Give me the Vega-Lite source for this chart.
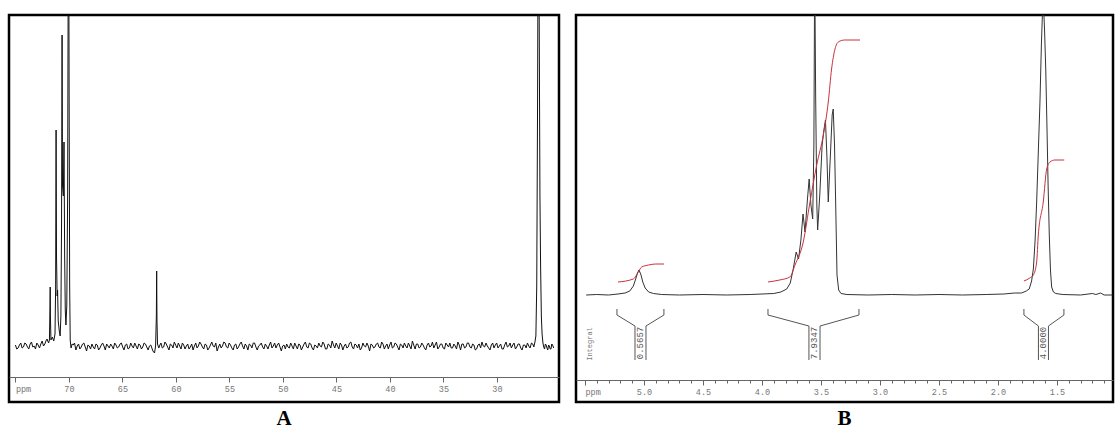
{
  "$schema": "https://vega.github.io/schema/vega-lite/v6.json",
  "background": "white",
  "padding": {"left": 7, "top": 13, "right": 0, "bottom": 0},
  "autosize": {"type": "pad"},
  "spacing": 13,
  "config": {
    "view": {"stroke": "#000", "strokeWidth": 2.5},
    "axis": {"grid": false, "title": null, "domainColor": "#666", "tickColor": "#666", "labelColor": "#777", "labelFont": "Liberation Mono", "labelFontSize": 8.5, "labelFlush": false, "labelOverlap": false, "labelPadding": 2, "domainWidth": 1, "tickWidth": 1},
    "title": {"font": "Liberation Serif", "fontSize": 21, "fontWeight": "bold", "color": "#000", "orient": "bottom", "offset": 6, "anchor": "middle"}
  },
  "datasets": {
    "A": [
      {"p":75.0,"v":1},{"p":74.875,"v":-3},{"p":74.75,"v":-2},{"p":74.625,"v":1},{"p":74.5,"v":3},{"p":74.375,"v":-2},{"p":74.25,"v":-1},{"p":74.125,"v":3},{"p":74.0,"v":2},{"p":73.875,"v":-1},{"p":73.75,"v":-3},{"p":73.625,"v":2},{"p":73.5,"v":4},{"p":73.375,"v":-1},{"p":73.25,"v":0},{"p":73.125,"v":-3},{"p":73.0,"v":3},{"p":72.875,"v":1},{"p":72.75,"v":-2},{"p":72.625,"v":2},{"p":72.5,"v":5},{"p":72.375,"v":0},{"p":72.25,"v":2},{"p":72.15,"v":5},
      {"p":72.05,"v":7},{"p":71.9,"v":3},{"p":71.82,"v":6},{"p":71.77,"v":40},{"p":71.75,"v":59},{"p":71.73,"v":30},{"p":71.68,"v":6},{"p":71.55,"v":9},{"p":71.42,"v":5},{"p":71.3,"v":12},{"p":71.24,"v":60},{"p":71.2,"v":216},{"p":71.16,"v":90},{"p":71.1,"v":50},{"p":71.06,"v":56},{"p":71.0,"v":25},{"p":70.9,"v":15},{"p":70.82,"v":10},{"p":70.75,"v":30},{"p":70.69,"v":120},{"p":70.64,"v":311},{"p":70.6,"v":160},{"p":70.52,"v":150},{"p":70.46,"v":204},{"p":70.4,"v":90},{"p":70.34,"v":35},{"p":70.28,"v":21},{"p":70.2,"v":40},{"p":70.12,"v":150},{"p":70.06,"v":400},{"p":70.02,"v":420},{"p":69.98,"v":250},{"p":69.93,"v":60},{"p":69.88,"v":6},{"p":69.8,"v":-2},{"p":69.7,"v":2},
      {"p":69.6,"v":1},{"p":69.475,"v":3},{"p":69.35,"v":-4},{"p":69.225,"v":0},{"p":69.1,"v":2},{"p":68.975,"v":-3},{"p":68.85,"v":-1},{"p":68.725,"v":2},{"p":68.6,"v":3},{"p":68.475,"v":-1},{"p":68.35,"v":-5},{"p":68.225,"v":1},{"p":68.1,"v":0},{"p":67.975,"v":-3},{"p":67.85,"v":2},{"p":67.725,"v":-1},{"p":67.6,"v":-3},{"p":67.475,"v":2},{"p":67.35,"v":1},{"p":67.225,"v":-4},{"p":67.1,"v":-2},{"p":66.975,"v":1},{"p":66.85,"v":3},{"p":66.725,"v":0},{"p":66.6,"v":-4},{"p":66.475,"v":2},{"p":66.35,"v":0},{"p":66.225,"v":-2},{"p":66.1,"v":2},{"p":65.975,"v":0},{"p":65.85,"v":-3},{"p":65.725,"v":3},{"p":65.6,"v":1},{"p":65.475,"v":-2},{"p":65.35,"v":-1},{"p":65.225,"v":2},{"p":65.1,"v":3},{"p":64.975,"v":-1},{"p":64.85,"v":-4},{"p":64.725,"v":1},{"p":64.6,"v":2},{"p":64.475,"v":-3},{"p":64.35,"v":-2},{"p":64.225,"v":3},{"p":64.1,"v":0},{"p":63.975,"v":-2},{"p":63.85,"v":3},{"p":63.725,"v":0},{"p":63.6,"v":-3},{"p":63.475,"v":2},{"p":63.35,"v":1},{"p":63.225,"v":-3},{"p":63.1,"v":-1},{"p":62.975,"v":3},{"p":62.85,"v":2},{"p":62.725,"v":-1},{"p":62.6,"v":-4},{"p":62.475,"v":0},{"p":62.35,"v":1},{"p":62.25,"v":-2},
      {"p":62.15,"v":-5},{"p":62.0,"v":-7},{"p":61.9,"v":0},{"p":61.83,"v":30},{"p":61.8,"v":75},{"p":61.77,"v":25},{"p":61.72,"v":2},{"p":61.6,"v":-2},{"p":61.5,"v":1},
      {"p":61.4,"v":3},{"p":61.275,"v":-2},{"p":61.15,"v":-1},{"p":61.025,"v":4},{"p":60.9,"v":2},{"p":60.775,"v":-1},{"p":60.65,"v":-4},{"p":60.525,"v":2},{"p":60.4,"v":1},{"p":60.275,"v":-2},{"p":60.15,"v":4},{"p":60.025,"v":1},{"p":59.9,"v":-2},{"p":59.775,"v":3},{"p":59.65,"v":0},{"p":59.525,"v":-3},{"p":59.4,"v":3},{"p":59.275,"v":1},{"p":59.15,"v":-3},{"p":59.025,"v":0},
      {"p":58.9,"v":2},{"p":58.775,"v":-3},{"p":58.65,"v":-1},{"p":58.525,"v":2},{"p":58.4,"v":-4},{"p":58.275,"v":0},{"p":58.15,"v":3},{"p":58.025,"v":-2},{"p":57.9,"v":0},{"p":57.775,"v":4},{"p":57.65,"v":2},{"p":57.525,"v":-1},{"p":57.4,"v":-3},{"p":57.275,"v":2},{"p":57.15,"v":1},{"p":57.025,"v":-4},{"p":56.9,"v":-2},{"p":56.775,"v":1},{"p":56.65,"v":4},{"p":56.525,"v":0},
      {"p":56.4,"v":-1},{"p":56.275,"v":3},{"p":56.15,"v":-5},{"p":56.025,"v":-1},{"p":55.9,"v":2},{"p":55.775,"v":-2},{"p":55.65,"v":0},{"p":55.525,"v":4},{"p":55.4,"v":3},{"p":55.275,"v":-1},{"p":55.15,"v":-2},{"p":55.025,"v":3},{"p":54.9,"v":1},{"p":54.775,"v":-2},{"p":54.65,"v":-4},{"p":54.525,"v":1},{"p":54.4,"v":2},{"p":54.275,"v":-3},{"p":54.15,"v":-1},{"p":54.025,"v":2},
      {"p":53.9,"v":4},{"p":53.775,"v":0},{"p":53.65,"v":-3},{"p":53.525,"v":2},{"p":53.4,"v":0},{"p":53.275,"v":-4},{"p":53.15,"v":2},{"p":53.025,"v":1},{"p":52.9,"v":-2},{"p":52.775,"v":3},{"p":52.65,"v":3},{"p":52.525,"v":-1},{"p":52.4,"v":-4},{"p":52.275,"v":0},{"p":52.15,"v":1},{"p":52.025,"v":3},{"p":51.9,"v":-1},{"p":51.775,"v":-3},{"p":51.65,"v":2},{"p":51.525,"v":0},
      {"p":51.4,"v":-3},{"p":51.275,"v":1},{"p":51.15,"v":4},{"p":51.025,"v":-2},{"p":50.9,"v":0},{"p":50.775,"v":3},{"p":50.65,"v":-2},{"p":50.525,"v":1},{"p":50.4,"v":3},{"p":50.275,"v":-1},{"p":50.15,"v":-5},{"p":50.025,"v":0},{"p":49.9,"v":1},{"p":49.775,"v":-3},{"p":49.65,"v":2},{"p":49.525,"v":-1},{"p":49.4,"v":-2},{"p":49.275,"v":3},{"p":49.15,"v":0},{"p":49.025,"v":-3},
      {"p":48.9,"v":3},{"p":48.775,"v":0},{"p":48.65,"v":-3},{"p":48.525,"v":2},{"p":48.4,"v":1},{"p":48.275,"v":-4},{"p":48.15,"v":-1},{"p":48.025,"v":2},{"p":47.9,"v":4},{"p":47.775,"v":-1},{"p":47.65,"v":-2},{"p":47.525,"v":3},{"p":47.4,"v":2},{"p":47.275,"v":-2},{"p":47.15,"v":-4},{"p":47.025,"v":1},{"p":46.9,"v":0},{"p":46.775,"v":-2},{"p":46.65,"v":3},{"p":46.525,"v":0},
      {"p":46.4,"v":-1},{"p":46.275,"v":4},{"p":46.15,"v":2},{"p":46.025,"v":-3},{"p":45.9,"v":-3},{"p":45.775,"v":2},{"p":45.65,"v":1},{"p":45.525,"v":-2},{"p":45.4,"v":5},{"p":45.275,"v":1},{"p":45.15,"v":-2},{"p":45.025,"v":3},{"p":44.9,"v":0},{"p":44.775,"v":-3},{"p":44.65,"v":3},{"p":44.525,"v":1},{"p":44.4,"v":-4},{"p":44.275,"v":0},{"p":44.15,"v":2},{"p":44.025,"v":-2},
      {"p":43.9,"v":-1},{"p":43.775,"v":3},{"p":43.65,"v":4},{"p":43.525,"v":-1},{"p":43.4,"v":-3},{"p":43.275,"v":2},{"p":43.15,"v":1},{"p":43.025,"v":-2},{"p":42.9,"v":2},{"p":42.775,"v":-4},{"p":42.65,"v":-2},{"p":42.525,"v":3},{"p":42.4,"v":0},{"p":42.275,"v":-1},{"p":42.15,"v":3},{"p":42.025,"v":0},{"p":41.9,"v":-5},{"p":41.775,"v":2},{"p":41.65,"v":1},{"p":41.525,"v":-2},
      {"p":41.4,"v":-1},{"p":41.275,"v":2},{"p":41.15,"v":3},{"p":41.025,"v":-1},{"p":40.9,"v":-2},{"p":40.775,"v":4},{"p":40.65,"v":2},{"p":40.525,"v":-3},{"p":40.4,"v":0},{"p":40.275,"v":2},{"p":40.15,"v":-3},{"p":40.025,"v":1},{"p":39.9,"v":4},{"p":39.775,"v":-2},{"p":39.65,"v":-1},{"p":39.525,"v":3},{"p":39.4,"v":2},{"p":39.275,"v":-1},{"p":39.15,"v":-4},{"p":39.025,"v":2},
      {"p":38.9,"v":1},{"p":38.775,"v":-2},{"p":38.65,"v":3},{"p":38.525,"v":0},{"p":38.4,"v":-2},{"p":38.275,"v":3},{"p":38.15,"v":0},{"p":38.025,"v":-3},{"p":37.9,"v":5},{"p":37.775,"v":1},{"p":37.65,"v":-3},{"p":37.525,"v":2},{"p":37.4,"v":2},{"p":37.275,"v":-2},{"p":37.15,"v":-1},{"p":37.025,"v":3},{"p":36.9,"v":1},{"p":36.775,"v":-2},{"p":36.65,"v":-4},{"p":36.525,"v":1},
      {"p":36.4,"v":3},{"p":36.275,"v":-1},{"p":36.15,"v":0},{"p":36.025,"v":4},{"p":35.9,"v":-2},{"p":35.775,"v":1},{"p":35.65,"v":4},{"p":35.525,"v":-3},{"p":35.4,"v":-1},{"p":35.275,"v":2},{"p":35.15,"v":2},{"p":35.025,"v":-2},{"p":34.9,"v":-3},{"p":34.775,"v":3},{"p":34.65,"v":1},{"p":34.525,"v":-1},{"p":34.4,"v":3},{"p":34.275,"v":-2},{"p":34.15,"v":-2},{"p":34.025,"v":2},
      {"p":33.9,"v":0},{"p":33.775,"v":-3},{"p":33.65,"v":4},{"p":33.525,"v":1},{"p":33.4,"v":-4},{"p":33.275,"v":2},{"p":33.15,"v":2},{"p":33.025,"v":-2},{"p":32.9,"v":-1},{"p":32.775,"v":3},{"p":32.65,"v":3},{"p":32.525,"v":-1},{"p":32.4,"v":-2},{"p":32.275,"v":2},{"p":32.15,"v":1},{"p":32.025,"v":-4},{"p":31.9,"v":-3},{"p":31.775,"v":1},{"p":31.65,"v":2},{"p":31.525,"v":-2},
      {"p":31.4,"v":4},{"p":31.275,"v":0},{"p":31.15,"v":-1},{"p":31.025,"v":3},{"p":30.9,"v":0},{"p":30.775,"v":-2},{"p":30.65,"v":-4},{"p":30.525,"v":1},{"p":30.4,"v":3},{"p":30.275,"v":-2},{"p":30.15,"v":1},{"p":30.025,"v":3},{"p":29.9,"v":-2},{"p":29.775,"v":0},{"p":29.65,"v":2},{"p":29.525,"v":-3},{"p":29.4,"v":-3},{"p":29.275,"v":1},{"p":29.15,"v":4},{"p":29.025,"v":-1},
      {"p":28.9,"v":0},{"p":28.775,"v":3},{"p":28.65,"v":-2},{"p":28.525,"v":1},{"p":28.4,"v":3},{"p":28.275,"v":-3},{"p":28.15,"v":-1},{"p":28.025,"v":2},{"p":27.9,"v":2},{"p":27.775,"v":-2},{"p":27.65,"v":-4},{"p":27.525,"v":1},{"p":27.4,"v":1},{"p":27.275,"v":-2},{"p":27.15,"v":3},{"p":27.025,"v":0},{"p":26.9,"v":-2},{"p":26.775,"v":3},{"p":26.65,"v":2},{"p":26.55,"v":-1},
      {"p":26.45,"v":4},{"p":26.36,"v":10},{"p":26.28,"v":60},{"p":26.2,"v":250},{"p":26.15,"v":420},{"p":26.08,"v":400},{"p":26.02,"v":250},{"p":25.98,"v":150},{"p":25.92,"v":80},{"p":25.85,"v":30},{"p":25.78,"v":12},{"p":25.7,"v":3},{"p":25.625,"v":-1},{"p":25.55,"v":-3},{"p":25.475,"v":2},{"p":25.4,"v":1},{"p":25.325,"v":-2},{"p":25.25,"v":-4},{"p":25.175,"v":1},{"p":25.1,"v":0},{"p":25.025,"v":-3},{"p":24.95,"v":-3},{"p":24.875,"v":2},{"p":24.8,"v":1},{"p":24.7,"v":-2}
    ],
    "B": [
      {"p":5.49,"v":0},{"p":5.4,"v":0.5},{"p":5.3,"v":0},{"p":5.22,"v":1},{"p":5.16,"v":2},{"p":5.12,"v":4},{"p":5.09,"v":9},{"p":5.07,"v":16},{"p":5.055,"v":22},{"p":5.042,"v":25},{"p":5.025,"v":20},{"p":5.01,"v":13},{"p":4.99,"v":7},{"p":4.96,"v":3},{"p":4.92,"v":1.5},{"p":4.85,"v":0.5},{"p":4.7,"v":0},{"p":4.5,"v":0.5},{"p":4.3,"v":0},{"p":4.1,"v":0.5},{"p":4.0,"v":1},{"p":3.9,"v":1.5},{"p":3.84,"v":3},{"p":3.79,"v":6},{"p":3.76,"v":12},{"p":3.735,"v":26},{"p":3.71,"v":43},{"p":3.69,"v":36},{"p":3.67,"v":55},{"p":3.652,"v":81},{"p":3.635,"v":63},{"p":3.615,"v":95},{"p":3.6,"v":116},{"p":3.585,"v":90},{"p":3.57,"v":76},{"p":3.56,"v":150},{"p":3.553,"v":330},{"p":3.545,"v":200},{"p":3.535,"v":90},{"p":3.528,"v":65},{"p":3.51,"v":100},{"p":3.49,"v":150},{"p":3.475,"v":165},{"p":3.462,"v":175},{"p":3.45,"v":140},{"p":3.438,"v":93},{"p":3.42,"v":140},{"p":3.405,"v":180},{"p":3.396,"v":186},{"p":3.385,"v":150},{"p":3.375,"v":90},{"p":3.364,"v":20},{"p":3.35,"v":5},{"p":3.33,"v":1.5},{"p":3.28,"v":0.5},{"p":3.1,"v":0},{"p":2.9,"v":0.5},{"p":2.7,"v":0},{"p":2.5,"v":0.5},{"p":2.3,"v":0},{"p":2.1,"v":0.5},{"p":1.95,"v":1},{"p":1.86,"v":2},{"p":1.8,"v":2},{"p":1.76,"v":4},{"p":1.735,"v":6},{"p":1.715,"v":14},{"p":1.7,"v":26},{"p":1.685,"v":55},{"p":1.672,"v":93},{"p":1.656,"v":150},{"p":1.644,"v":193},{"p":1.632,"v":250},{"p":1.622,"v":285},{"p":1.614,"v":290},{"p":1.605,"v":265},{"p":1.595,"v":226},{"p":1.585,"v":170},{"p":1.575,"v":110},{"p":1.565,"v":60},{"p":1.555,"v":25},{"p":1.545,"v":8},{"p":1.53,"v":3},{"p":1.51,"v":1.5},{"p":1.45,"v":0.5},{"p":1.3,"v":0},{"p":1.2,"v":1.5},{"p":1.17,"v":0.5},{"p":1.13,"v":2},{"p":1.1,"v":0},{"p":1.03,"v":0}
    ],
    "BI": [
      {"s":1,"p":5.22,"v":13},{"s":1,"p":5.09,"v":16},{"s":1,"p":5.048,"v":23},{"s":1,"p":5.02,"v":28},{"s":1,"p":4.96,"v":30},{"s":1,"p":4.9,"v":31},{"s":1,"p":4.83,"v":31},
      {"s":2,"p":3.949,"v":13},{"s":2,"p":3.85,"v":15},{"s":2,"p":3.763,"v":18},{"s":2,"p":3.72,"v":30},{"s":2,"p":3.65,"v":53},{"s":2,"p":3.593,"v":93},{"s":2,"p":3.536,"v":130},{"s":2,"p":3.48,"v":160},{"s":2,"p":3.438,"v":193},{"s":2,"p":3.41,"v":226},{"s":2,"p":3.381,"v":246},{"s":2,"p":3.353,"v":253},{"s":2,"p":3.3,"v":255},{"s":2,"p":3.169,"v":255},
      {"s":3,"p":1.78,"v":14},{"s":3,"p":1.73,"v":17},{"s":3,"p":1.7,"v":20},{"s":3,"p":1.672,"v":33},{"s":3,"p":1.658,"v":60},{"s":3,"p":1.616,"v":93},{"s":3,"p":1.587,"v":126},{"s":3,"p":1.559,"v":133},{"s":3,"p":1.517,"v":135},{"s":3,"p":1.438,"v":135}
    ],
    "BR": [
      {"s":"1L","i":0,"p":5.076,"v":-65},{"s":"1L","i":1,"p":5.076,"v":-31},{"s":"1L","i":2,"p":5.229,"v":-20},{"s":"1L","i":3,"p":5.229,"v":-14},
      {"s":"1R","i":0,"p":4.983,"v":-65},{"s":"1R","i":1,"p":4.983,"v":-31},{"s":"1R","i":2,"p":4.831,"v":-20},{"s":"1R","i":3,"p":4.831,"v":-14},
      {"s":"2L","i":0,"p":3.602,"v":-65},{"s":"2L","i":1,"p":3.602,"v":-31},{"s":"2L","i":2,"p":3.949,"v":-20},{"s":"2L","i":3,"p":3.949,"v":-14},
      {"s":"2R","i":0,"p":3.508,"v":-65},{"s":"2R","i":1,"p":3.508,"v":-31},{"s":"2R","i":2,"p":3.178,"v":-20},{"s":"2R","i":3,"p":3.178,"v":-14},
      {"s":"3L","i":0,"p":1.657,"v":-65},{"s":"3L","i":1,"p":1.657,"v":-31},{"s":"3L","i":2,"p":1.78,"v":-20},{"s":"3L","i":3,"p":1.78,"v":-14},
      {"s":"3R","i":0,"p":1.572,"v":-65},{"s":"3R","i":1,"p":1.572,"v":-31},{"s":"3R","i":2,"p":1.441,"v":-20},{"s":"3R","i":3,"p":1.441,"v":-14}
    ],
    "BL": [
      {"p":5.03,"v":-48,"t":"0.5657"},{"p":3.555,"v":-48,"t":"7.9347"},{"p":1.615,"v":-48,"t":"4.0000"}
    ],
    "BT": [
      {"p":5.46,"v":-49,"t":"Integral"}
    ]
  },
  "hconcat": [
    {
      "width": 550,
      "height": 387,
      "title": {"text": "A"},
      "data": {"name": "A"},
      "mark": {"type": "line", "color": "#111", "strokeWidth": 1, "clip": true},
      "encoding": {
        "x": {
          "field": "p", "type": "quantitative",
          "scale": {"domain": [24.2, 75.6], "reverse": true, "nice": false, "zero": false},
          "axis": {
            "values": [75, 70, 65, 60, 55, 50, 45, 40, 35, 30],
            "labelExpr": "datum.value == 75 ? 'ppm' : datum.label",
            "labelAlign": {"condition": {"test": "datum.value == 75", "value": "left"}, "value": "center"},
            "offset": -25,
            "tickSize": 5
          }
        },
        "y": {"field": "v", "type": "quantitative", "scale": {"domain": [-56, 331], "nice": false, "zero": false}, "axis": null}
      }
    },
    {
      "width": 537,
      "height": 387,
      "title": {"text": "B"},
      "encoding": {
        "x": {
          "field": "p", "type": "quantitative",
          "scale": {"domain": [1.025, 5.576], "reverse": true, "nice": false, "zero": false},
          "axis": {
            "values": [5.5,5.4,5.3,5.2,5.1,5.0,4.9,4.8,4.7,4.6,4.5,4.4,4.3,4.2,4.1,4.0,3.9,3.8,3.7,3.6,3.5,3.4,3.3,3.2,3.1,3.0,2.9,2.8,2.7,2.6,2.5,2.4,2.3,2.2,2.1,2.0,1.9,1.8,1.7,1.6,1.5,1.4,1.3,1.2,1.1],
            "labelExpr": "datum.value >= 5.45 ? 'ppm' : (abs(datum.value*2 - round(datum.value*2)) < 0.01 ? format(datum.value, '.1f') : '')",
            "labelAlign": {"condition": {"test": "datum.value >= 5.45", "value": "left"}, "value": "center"},
            "tickSize": {"condition": {"test": "abs(datum.value*2 - round(datum.value*2)) < 0.01", "value": 5}, "value": 3},
            "offset": -22
          }
        },
        "y": {"field": "v", "type": "quantitative", "scale": {"domain": [-107, 280], "nice": false, "zero": false}, "axis": null}
      },
      "layer": [
        {
          "data": {"name": "B"},
          "mark": {"type": "line", "color": "#333", "strokeWidth": 1, "clip": true}
        },
        {
          "data": {"name": "BI"},
          "mark": {"type": "line", "color": "#c8323c", "strokeWidth": 1, "clip": true, "interpolate": "monotone"},
          "encoding": {"detail": {"field": "s", "type": "nominal"}}
        },
        {
          "data": {"name": "BR"},
          "mark": {"type": "line", "color": "#555", "strokeWidth": 1},
          "encoding": {"detail": {"field": "s", "type": "nominal"}, "order": {"field": "i", "type": "quantitative"}}
        },
        {
          "data": {"name": "BL"},
          "mark": {"type": "text", "angle": 270, "font": "Liberation Mono", "fontSize": 9, "color": "#555", "align": "center", "baseline": "middle"},
          "encoding": {"text": {"field": "t", "type": "nominal"}}
        },
        {
          "data": {"name": "BT"},
          "mark": {"type": "text", "angle": 270, "font": "Liberation Mono", "fontSize": 7, "color": "#777", "align": "center", "baseline": "middle"},
          "encoding": {"text": {"field": "t", "type": "nominal"}}
        }
      ]
    }
  ]
}
